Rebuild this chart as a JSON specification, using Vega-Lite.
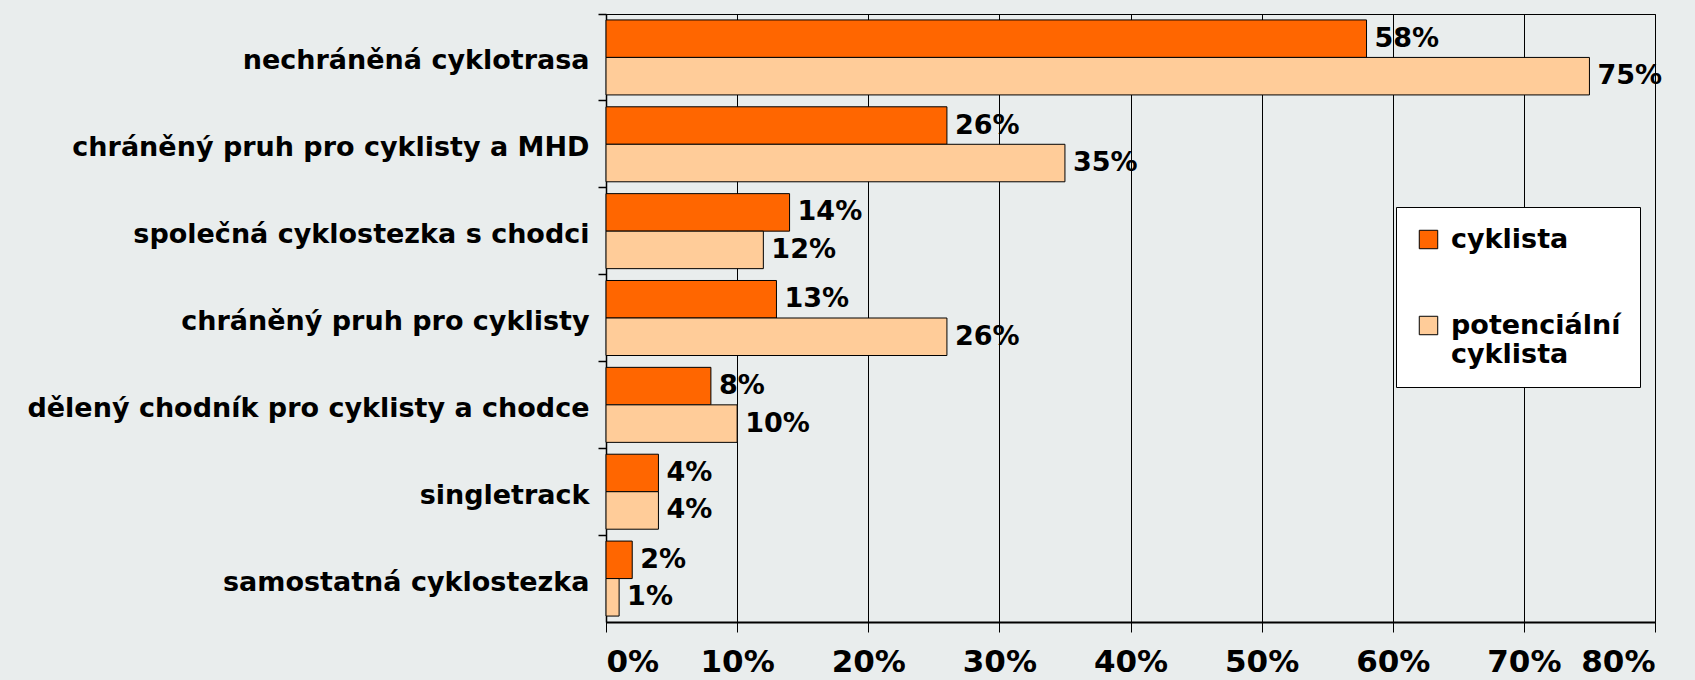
{
  "$schema": "https://vega.github.io/schema/vega-lite/v6.json",
  "width": 1049,
  "height": 608,
  "autosize": "none",
  "padding": {"left": 606, "top": 14, "right": 40, "bottom": 58},
  "background": "#E9EDED",
  "config": {
    "view": {"stroke": "#000000", "strokeWidth": 1, "fill": "#E9EDED"},
    "font": "DejaVu Sans"
  },
  "data": {
    "values": [
      {"typ": "nechráněná cyklotrasa", "skupina": "cyklista", "podil": 0.58},
      {"typ": "nechráněná cyklotrasa", "skupina": "potenciální cyklista", "podil": 0.75},
      {"typ": "chráněný pruh pro cyklisty a MHD", "skupina": "cyklista", "podil": 0.26},
      {"typ": "chráněný pruh pro cyklisty a MHD", "skupina": "potenciální cyklista", "podil": 0.35},
      {"typ": "společná cyklostezka s chodci", "skupina": "cyklista", "podil": 0.14},
      {"typ": "společná cyklostezka s chodci", "skupina": "potenciální cyklista", "podil": 0.12},
      {"typ": "chráněný pruh pro cyklisty", "skupina": "cyklista", "podil": 0.13},
      {"typ": "chráněný pruh pro cyklisty", "skupina": "potenciální cyklista", "podil": 0.26},
      {"typ": "dělený chodník pro cyklisty a chodce", "skupina": "cyklista", "podil": 0.08},
      {"typ": "dělený chodník pro cyklisty a chodce", "skupina": "potenciální cyklista", "podil": 0.10},
      {"typ": "singletrack", "skupina": "cyklista", "podil": 0.04},
      {"typ": "singletrack", "skupina": "potenciální cyklista", "podil": 0.04},
      {"typ": "samostatná cyklostezka", "skupina": "cyklista", "podil": 0.02},
      {"typ": "samostatná cyklostezka", "skupina": "potenciální cyklista", "podil": 0.01}
    ]
  },
  "encoding": {
    "y": {
      "field": "typ",
      "type": "nominal",
      "sort": null,
      "scale": {"paddingInner": 0, "paddingOuter": 0},
      "axis": {
        "title": null,
        "bandPosition": 0,
        "labelOffset": 4,
        "labelFont": "DejaVu Sans",
        "labelFontWeight": "bold",
        "labelFontSize": 27,
        "labelColor": "#000000",
        "labelPadding": 9,
        "labelLimit": 700,
        "tickSize": 8,
        "tickColor": "#000000",
        "tickWidth": 1.5,
        "domainColor": "#000000",
        "domainWidth": 1.5,
        "grid": false
      }
    },
    "yOffset": {
      "field": "skupina",
      "type": "nominal",
      "sort": ["cyklista", "potenciální cyklista"],
      "scale": {"paddingInner": 0, "paddingOuter": 0.158}
    },
    "x": {
      "field": "podil",
      "type": "quantitative",
      "scale": {"domain": [0, 0.8], "nice": false},
      "axis": {
        "title": null,
        "format": ".0%",
        "values": [0, 0.1, 0.2, 0.3, 0.4, 0.5, 0.6, 0.7, 0.8],
        "labelFont": "DejaVu Sans",
        "labelFontWeight": "bold",
        "labelFontSize": 31,
        "labelColor": "#000000",
        "labelPadding": 15,
        "tickSize": 10,
        "tickColor": "#000000",
        "domainColor": "#000000",
        "domainWidth": 2,
        "grid": true,
        "gridColor": "#000000",
        "gridWidth": 1,
        "gridOpacity": 1
      }
    }
  },
  "layer": [
    {
      "mark": {"type": "bar", "stroke": "#000000", "strokeWidth": 1},
      "encoding": {
        "color": {
          "field": "skupina",
          "type": "nominal",
          "sort": ["cyklista", "potenciální cyklista"],
          "scale": {"domain": ["cyklista", "potenciální cyklista"], "range": ["#FF6600", "#FFCC99"]},
          "legend": {
            "title": null,
            "orient": "none",
            "legendX": 790,
            "legendY": 193,
            "fillColor": "#FFFFFF",
            "strokeColor": "#000000",
            "padding": 19,
            "symbolType": "square",
            "symbolSize": 340,
            "symbolStrokeColor": "#000000",
            "symbolStrokeWidth": 1,
            "symbolOpacity": 1,
            "labelFont": "DejaVu Sans",
            "labelFontWeight": "bold",
            "labelFontSize": 27,
            "labelColor": "#000000",
            "labelOffset": 9,
            "labelLimit": 400,
            "rowPadding": 58,
            "labelExpr": "datum.label == 'potenciální cyklista' ? ['potenciální', 'cyklista'] : datum.label"
          }
        }
      }
    },
    {
      "mark": {"type": "text", "align": "left", "baseline": "middle", "dx": 8, "font": "DejaVu Sans", "fontWeight": "bold", "fontSize": 27, "color": "#000000"},
      "encoding": {
        "text": {"field": "podil", "type": "quantitative", "format": ".0%"}
      }
    }
  ]
}
